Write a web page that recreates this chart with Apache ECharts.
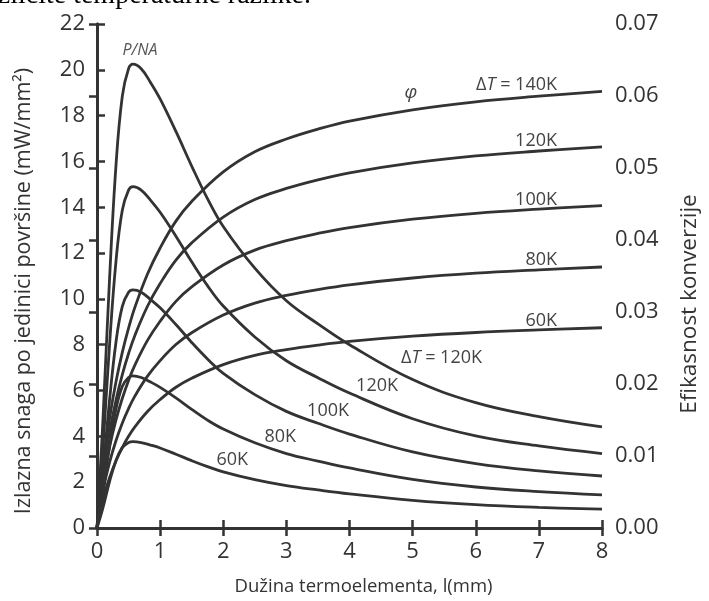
<!DOCTYPE html>
<html>
<head>
<meta charset="utf-8">
<script src="https://cdn.jsdelivr.net/npm/echarts@6/dist/echarts.min.js"></script>
<style>
html,body{margin:0;padding:0;background:#fff;}
#c{width:709px;height:601px;}
</style>
</head>
<body>
<div id="c"></div>
<script>
// x positions (mm) for power curves
const xPower = [0, 0.05, 0.1, 0.2, 0.3, 0.4, 0.5, 0.57, 0.7, 0.85, 1.0, 1.25, 1.5, 1.75, 2.0, 2.5, 3.0, 3.5, 4.0, 5.0, 6.0, 7.0, 8.0];
// output power per unit area (mW/mm^2)
const power140 = [0, 2.43, 5.06, 10.94, 15.80, 18.83, 20.05, 20.25, 20.05, 19.44, 18.73, 17.31, 15.80, 14.38, 13.16, 11.34, 9.92, 8.91, 8.00, 6.48, 5.47, 4.86, 4.41];
const power120 = [0, 1.79, 3.73, 8.05, 11.62, 13.86, 14.75, 14.90, 14.75, 14.30, 13.78, 12.74, 11.62, 10.58, 9.69, 8.34, 7.30, 6.56, 5.89, 4.77, 4.02, 3.58, 3.25];
const power100 = [0, 1.25, 2.60, 5.61, 8.10, 9.66, 10.29, 10.39, 10.29, 9.97, 9.61, 8.88, 8.10, 7.38, 6.75, 5.82, 5.09, 4.57, 4.10, 3.32, 2.81, 2.49, 2.27];
const power80  = [0, 0.80, 1.66, 3.59, 5.18, 6.18, 6.57, 6.64, 6.57, 6.37, 6.14, 5.68, 5.18, 4.71, 4.32, 3.72, 3.25, 2.92, 2.62, 2.12, 1.79, 1.59, 1.45];
const power60  = [0, 0.45, 0.94, 2.04, 2.94, 3.51, 3.73, 3.77, 3.73, 3.62, 3.49, 3.22, 2.94, 2.68, 2.45, 2.11, 1.85, 1.66, 1.49, 1.21, 1.02, 0.90, 0.82];

// x positions (mm) for efficiency curves
const xEff = [0, 0.1, 0.2, 0.3, 0.4, 0.5, 0.6, 0.8, 1.0, 1.25, 1.5, 2.0, 2.5, 3.0, 3.5, 4.0, 5.0, 6.0, 7.0, 8.0];
// conversion efficiency
const eff140 = [0, 0.00896, 0.01529, 0.02028, 0.02436, 0.02775, 0.03064, 0.03528, 0.03889, 0.04262, 0.04535, 0.04945, 0.05225, 0.05402, 0.05539, 0.05651, 0.05808, 0.05919, 0.05997, 0.06063];
const eff120 = [0, 0.00782, 0.01335, 0.01770, 0.02126, 0.02423, 0.02675, 0.03080, 0.03395, 0.03721, 0.03960, 0.04318, 0.04562, 0.04716, 0.04836, 0.04933, 0.05070, 0.05168, 0.05236, 0.05293];
const eff100 = [0, 0.00662, 0.01129, 0.01498, 0.01799, 0.02050, 0.02263, 0.02606, 0.02872, 0.03148, 0.03349, 0.03653, 0.03859, 0.03990, 0.04091, 0.04173, 0.04289, 0.04371, 0.04429, 0.04477];
const eff80  = [0, 0.00536, 0.00914, 0.01212, 0.01456, 0.01659, 0.01832, 0.02109, 0.02325, 0.02548, 0.02712, 0.02957, 0.03124, 0.03230, 0.03312, 0.03378, 0.03472, 0.03539, 0.03585, 0.03625];
const eff60  = [0, 0.00411, 0.00701, 0.00930, 0.01117, 0.01273, 0.01405, 0.01618, 0.01784, 0.01955, 0.02080, 0.02269, 0.02397, 0.02478, 0.02541, 0.02592, 0.02664, 0.02715, 0.02751, 0.02781];

const xTicks = [0, 1, 2, 3, 4, 5, 6, 7, 8];
const leftTicks = [0, 2, 4, 6, 8, 10, 12, 14, 16, 18, 20, 22];
const rightTicks = [0.00, 0.01, 0.02, 0.03, 0.04, 0.05, 0.06, 0.07];

const powerSeries = [power140, power120, power100, power80, power60];
const effSeries = [eff140, eff120, eff100, eff80, eff60];
const names = ['140K', '120K', '100K', '80K', '60K'];

const FONT = '"Open Sans", "DejaVu Sans", sans-serif';
const INK = '#333';

const pair = (xs, ys) => xs.map((x, i) => [x, ys[i]]);

const series = [];
powerSeries.forEach((ys, k) => {
  series.push({
    name: 'P/NA ' + names[k], type: 'line', xAxisIndex: 0, yAxisIndex: 0,
    data: pair(xPower, ys), smooth: 0.4, showSymbol: false,
    lineStyle: {color: INK, width: 2.8}, silent: true
  });
});
effSeries.forEach((ys, k) => {
  series.push({
    name: 'φ ' + names[k], type: 'line', xAxisIndex: 0, yAxisIndex: 1,
    data: pair(xEff, ys), smooth: 0.4, showSymbol: false,
    lineStyle: {color: INK, width: 2.8}, silent: true
  });
});

const labelStyle = (txt, x, y, align) => ({
  type: 'text', x: x, y: y,
  style: {text: txt, font: '18px ' + FONT, fill: '#444', align: align || 'right', verticalAlign: 'middle'}
});
const deltaLabel = (val, x, y) => ({
  type: 'text', x: x, y: y,
  style: {
    text: '{d|Δ}{t|T}{d| = ' + val + '}',
    align: 'right', verticalAlign: 'middle',
    rich: {
      d: {font: '18px ' + FONT, fill: '#444'},
      t: {font: 'italic 18px ' + FONT, fill: '#444'}
    }
  }
});

const tickStyle = {show: true, inside: true, length: 8, lineStyle: {color: INK, width: 2.5}};

const chart = echarts.init(document.getElementById('c'), null, {renderer: 'canvas'});
chart.setOption({
  animation: false,
  backgroundColor: '#fff',
  grid: {left: 97, right: 101, top: 24, bottom: 73, containLabel: false},
  xAxis: [{
    type: 'value', min: 0, max: 8, interval: 1, position: 'bottom',
    name: 'Dužina termoelementa, l(mm)', nameLocation: 'middle', nameGap: 49,
    nameTextStyle: {fontFamily: FONT, fontSize: 18.5, color: INK, padding: [0, 0, 0, 28]},
    axisLine: {show: true, lineStyle: {color: INK, width: 3}},
    axisTick: tickStyle,
    axisLabel: {fontFamily: FONT, fontSize: 22, color: INK, margin: 13,
      formatter: v => xTicks.includes(v) ? String(v) : ''},
    splitLine: {show: false}
  }, {
    type: 'value', min: 0, max: 8, interval: 1, position: 'top',
    axisLine: {show: true, lineStyle: {color: INK, width: 3}},
    axisTick: tickStyle,
    axisLabel: {show: false},
    splitLine: {show: false}
  }],
  yAxis: [{
    type: 'value', min: 0, max: 22, interval: 2, position: 'left',
    name: 'Izlazna snaga po jedinici površine (mW/mm²)', nameLocation: 'middle', nameGap: 62, nameRotate: 90,
    nameTextStyle: {fontFamily: FONT, fontSize: 21.5, color: INK, padding: [0, 30, 0, 0]},
    axisLine: {show: true, lineStyle: {color: INK, width: 3}},
    axisTick: tickStyle,
    axisLabel: {fontFamily: FONT, fontSize: 22, color: INK, margin: 12,
      formatter: v => leftTicks.includes(v) ? String(v) : ''},
    splitLine: {show: false}
  }, {
    type: 'value', min: 0, max: 0.07, interval: 0.01, position: 'right',
    name: 'Efikasnost konverzije', nameLocation: 'middle', nameGap: 76, nameRotate: 90,
    nameTextStyle: {fontFamily: FONT, fontSize: 22.5, color: INK, padding: [0, 56, 0, 0]},
    axisLine: {show: true, lineStyle: {color: INK, width: 3}},
    axisTick: tickStyle,
    axisLabel: {fontFamily: FONT, fontSize: 22, color: INK, margin: 13,
      formatter: v => v.toFixed(2)},
    splitLine: {show: false}
  }],
  series: series,
  graphic: [
    {type: 'text', x: -24, y: 10,
      style: {text: 'različite temperaturne razlike.', font: '28px "Liberation Serif", serif', fill: '#000', align: 'left', verticalAlign: 'bottom'}},
    {type: 'text', x: 140, y: 50,
      style: {text: 'P/NA', font: 'italic 16px ' + FONT, fill: '#555', align: 'center', verticalAlign: 'middle'}},
    {type: 'text', x: 411, y: 93,
      style: {text: 'φ', font: 'italic 19px ' + FONT, fill: '#444', align: 'center', verticalAlign: 'middle'}},
    deltaLabel('140K', 557, 85),
    labelStyle('120K', 557, 141),
    labelStyle('100K', 557, 200),
    labelStyle('80K', 557, 260),
    labelStyle('60K', 557, 321),
    deltaLabel('120K', 482, 358),
    labelStyle('120K', 398, 386),
    labelStyle('100K', 349, 411),
    labelStyle('80K', 296, 437),
    labelStyle('60K', 248, 460)
  ]
});
</script>
</body>
</html>
